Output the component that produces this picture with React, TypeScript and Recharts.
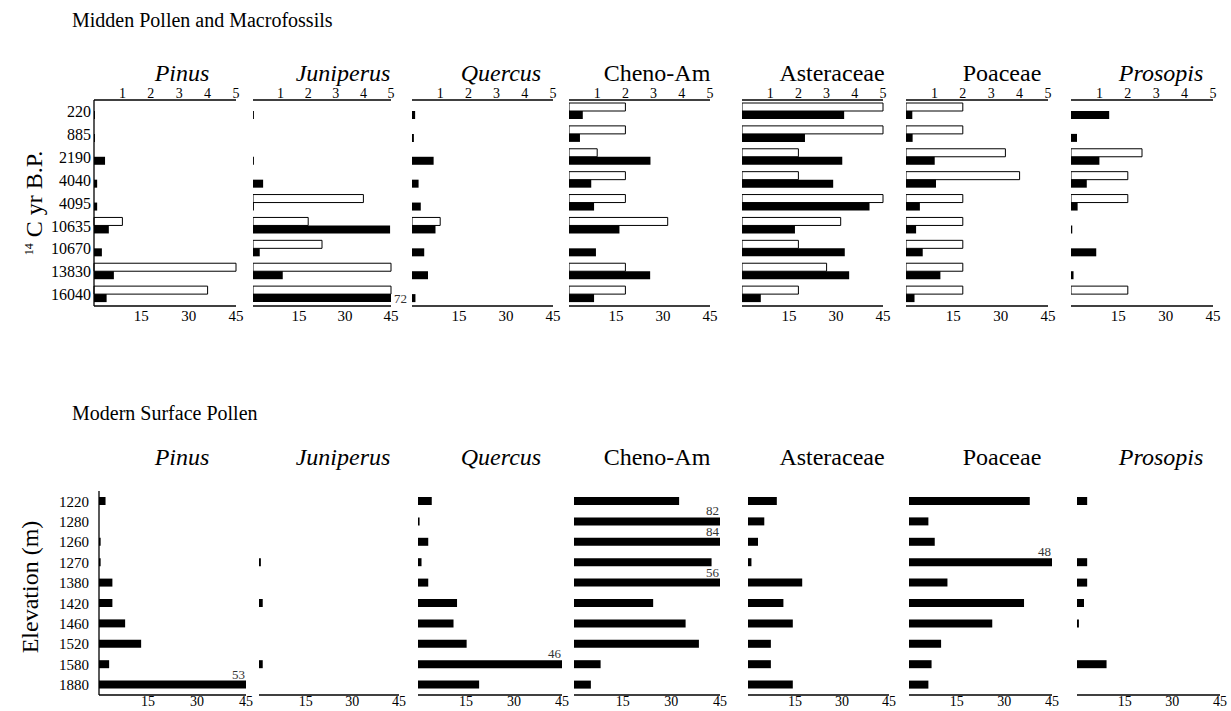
import React from "react";
import { Bar, BarChart, LabelList, XAxis, YAxis } from "recharts";

const FONT = '"Liberation Serif", "Times New Roman", serif';
const MAX = 45;

const taxa = ["Pinus", "Juniperus", "Quercus", "Cheno-Am", "Asteraceae", "Poaceae", "Prosopis"];
const italicTaxa = ["Pinus", "Juniperus", "Quercus", "Prosopis"];

// midden samples (14C yr B.P.)
const middenAges = ["220", "885", "2190", "4040", "4095", "10635", "10670", "13830", "16040"];
// surface samples (elevation, m)
const elevations = ["1220", "1280", "1260", "1270", "1380", "1420", "1460", "1520", "1580", "1880"];

// midden pollen % (black, bottom axis 0-45)
const pinusPollen = [0.3, 0.3, 3.5, 1, 1, 4.7, 2.5, 6.3, 4];
const juniperusPollen = [0.3, 0, 0.3, 3.3, 0.3, 44.7, 2.2, 9.7, 72];
const quercusPollen = [1, 0.6, 6.9, 2.1, 2.8, 7.5, 3.9, 5.1, 1.1];
const chenoPollen = [4.4, 3.5, 26, 7.1, 8, 16.1, 8.6, 25.9, 8];
const asterPollen = [32.6, 20.1, 32, 29.1, 40.7, 16.9, 32.8, 34.2, 6];
const poaceaePollen = [2, 2.1, 9.1, 9.5, 4.4, 3.2, 5.3, 10.9, 2.7];
const prosopisPollen = [12.1, 1.9, 9, 5, 2.1, 0.4, 8, 0.8, 0];

// midden macrofossils (white, top axis 0-5)
const pinusMacro = [0, 0, 0, 0, 0, 1, 0, 5, 4];
const juniperusMacro = [0, 0, 0, 0, 4, 2, 2.5, 5, 5];
const quercusMacro = [0, 0, 0, 0, 0, 1, 0, 0, 0];
const chenoMacro = [2, 2, 1, 2, 2, 3.5, 0, 2, 2];
const asterMacro = [5, 5, 2, 2, 5, 3.5, 2, 3, 2];
const poaceaeMacro = [2, 2, 3.5, 4, 2, 2, 2, 2, 2];
const prosopisMacro = [0, 0, 2.5, 2, 2, 0, 0, 0, 2];

// modern surface pollen %
const pinusSurface = [2, 0, 0.5, 0.5, 4.1, 4.1, 8, 12.9, 3.1, 53];
const juniperusSurface = [0, 0, 0, 0.6, 0, 1.2, 0, 0, 1.2, 0];
const quercusSurface = [4.3, 0.5, 3.2, 1.1, 3.2, 12.2, 11.1, 15.2, 46, 19.1];
const chenoSurface = [32.4, 82, 84, 42.4, 56, 24.4, 34.4, 38.5, 8.2, 5.2];
const asterSurface = [9.2, 5.2, 3.2, 1.1, 17.3, 11.3, 14.3, 7.3, 7.3, 14.3];
const poaceaeSurface = [38, 6.1, 8.1, 48, 12.1, 36.2, 26.2, 10.1, 7.1, 6.1];
const prosopisSurface = [3.2, 0, 0, 3.2, 3.2, 2.2, 0.6, 0, 9.3, 0];

const middenPollen = [pinusPollen, juniperusPollen, quercusPollen, chenoPollen, asterPollen, poaceaePollen, prosopisPollen];
const middenMacro = [pinusMacro, juniperusMacro, quercusMacro, chenoMacro, asterMacro, poaceaeMacro, prosopisMacro];
const surfacePollen = [pinusSurface, juniperusSurface, quercusSurface, chenoSurface, asterSurface, poaceaeSurface, prosopisSurface];

// layout
const TOP_LEFT = [94, 253, 412, 569, 742, 906, 1071];
const TOP_W = [142, 138, 141, 141, 141, 142, 142];
const BOT_LEFT = [99, 259, 418, 574, 748, 909, 1077];
const BOT_W = [147, 140, 144, 146, 141, 143, 143];
const TITLE_X = [182, 343, 501, 657, 832, 1002, 1161];

const AX = { stroke: "#000", strokeWidth: 1.3 };

interface Row {
  cat: string;
  v: number;
  m?: number;
}

const noteLabel = (side: "right" | "above") => (props: any) => {
  const vb = props.viewBox ?? props;
  const { x, y, width, height } = vb;
  const value = props.value;
  if (value == null || value <= MAX) return null;
  if (side === "right")
    return (
      <text x={x + width + 3} y={y + height / 2} dominantBaseline="central" fontSize={13} fill="#333">
        {value}
      </text>
    );
  return (
    <text x={x + width - 1} y={y - 2} textAnchor="end" fontSize={13} fill="#333">
      {value}
    </text>
  );
};

interface PanelProps {
  data: Row[];
  left: number;
  top: number;
  plotW: number;
  plotH: number;
  macro: boolean;
  cats: boolean;
  catMargin: number;
  catFont: number;
  botH: number;
  botFont: number;
  botMargin: number;
}

const Panel = ({ data, left, top, plotW, plotH, macro, cats, catMargin, catFont, botH, botFont, botMargin }: PanelProps) => {
  const topH = macro ? 20 : 0;
  const yW = cats ? 62 : 0;
  const rightPad = 22;
  return (
    <div style={{ position: "absolute", left: left - yW, top: top - topH }}>
      <BarChart
        layout="vertical"
        width={yW + plotW + rightPad}
        height={topH + plotH + botH}
        data={data}
        margin={{ top: 0, right: rightPad, bottom: 0, left: 0 }}
        barGap={0}
      >
        {macro && (
          <XAxis
            xAxisId="top"
            orientation="top"
            type="number"
            domain={[0, 5]}
            ticks={[1, 2, 3, 4, 5]}
            interval={0}
            height={topH}
            tickSize={0}
            tickMargin={2}
            tickLine={false}
            axisLine={AX}
            tick={{ fontSize: 14, fill: "#000" }}
          />
        )}
        <XAxis
          xAxisId="bot"
          orientation="bottom"
          type="number"
          domain={[0, MAX]}
          ticks={[15, 30, 45]}
          interval={0}
          height={botH}
          tickSize={0}
          tickMargin={botMargin}
          tickLine={false}
          axisLine={AX}
          tick={{ fontSize: botFont, fill: "#000" }}
        />
        <YAxis
          type="category"
          dataKey="cat"
          width={yW}
          interval={0}
          tickSize={0}
          tickMargin={catMargin}
          tickLine={false}
          axisLine={AX}
          tick={cats ? { fontSize: catFont, fill: "#000" } : false}
        />
        {macro && (
          <Bar
            xAxisId="top"
            dataKey="m"
            barSize={8}
            fill="#fff"
            stroke="#000"
            strokeWidth={1}
            isAnimationActive={false}
          />
        )}
        <Bar
          xAxisId="bot"
          dataKey={(d: Row) => Math.min(d.v, MAX)}
          barSize={8}
          fill="#000"
          isAnimationActive={false}
        >
          <LabelList dataKey="v" content={noteLabel(macro ? "right" : "above")} />
        </Bar>
      </BarChart>
    </div>
  );
};

export default function App() {
  return (
    <div
      style={{
        position: "absolute",
        left: 0,
        top: 0,
        width: 1231,
        height: 711,
        background: "#fff",
        fontFamily: FONT,
        overflow: "hidden",
      }}
    >
      <svg width={1231} height={711} style={{ position: "absolute", left: 0, top: 0 }} fontFamily={FONT}>
        <text x={72} y={27} fontSize={20} fill="#000">
          Midden Pollen and Macrofossils
        </text>
        <text x={72} y={420} fontSize={20} fill="#000">
          Modern Surface Pollen
        </text>
        {taxa.map((t, i) => (
          <g key={t}>
            <text x={TITLE_X[i]} y={81} fontSize={24} textAnchor="middle" fontStyle={italicTaxa.includes(t) ? "italic" : "normal"}>
              {t}
            </text>
            <text x={TITLE_X[i]} y={465} fontSize={24} textAnchor="middle" fontStyle={italicTaxa.includes(t) ? "italic" : "normal"}>
              {t}
            </text>
          </g>
        ))}
        <text transform="translate(42,203) rotate(-90)" textAnchor="middle" fontSize={24}>
          <tspan fontSize={12} dy={-9}>14</tspan>
          <tspan dy={9}> C yr B.P.</tspan>
        </text>
        <text transform="translate(38,587) rotate(-90)" textAnchor="middle" fontSize={24}>
          Elevation (m)
        </text>
      </svg>
      {taxa.map((t, i) => (
        <Panel
          key={`top-${t}`}
          data={middenAges.map((a, j) => ({ cat: a, v: middenPollen[i][j], m: middenMacro[i][j] }))}
          left={TOP_LEFT[i]}
          top={100}
          plotW={TOP_W[i]}
          plotH={206}
          macro
          cats={i === 0}
          catMargin={3}
          catFont={16}
          botH={24}
          botFont={15}
          botMargin={4}
        />
      ))}
      {taxa.map((t, i) => (
        <Panel
          key={`bot-${t}`}
          data={elevations.map((e, j) => ({ cat: e, v: surfacePollen[i][j] }))}
          left={BOT_LEFT[i]}
          top={491}
          plotW={BOT_W[i]}
          plotH={204}
          macro={false}
          cats={i === 0}
          catMargin={10}
          catFont={15}
          botH={16}
          botFont={14}
          botMargin={1}
        />
      ))}
    </div>
  );
}
